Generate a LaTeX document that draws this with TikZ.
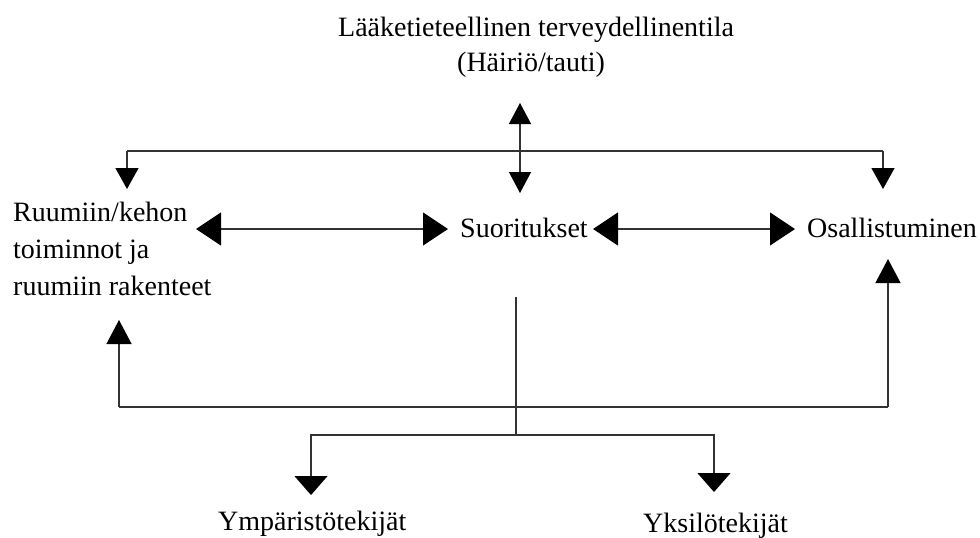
\documentclass[tikz,border=0pt]{standalone}
\usepackage{fontspec}
\setmainfont{Liberation Serif}
\usetikzlibrary{arrows.meta}
\begin{document}
\begin{tikzpicture}[x=1pt,y=-1pt,
  lbl/.style={anchor=base west,inner sep=0pt,font=\fontsize{28}{37}\selectfont},
  conn/.style={line width=1.3pt,draw=black!80},
  tipA/.style={-{Triangle[length=21pt,width=23pt,color=black]}},
  tipH/.style={{Triangle[length=25pt,width=33pt,color=black]}-{Triangle[length=25pt,width=33pt,color=black]}},
  tipV/.style={{Triangle[length=21pt,width=22pt,color=black]}-{Triangle[length=21pt,width=22pt,color=black]}},
  tipB/.style={-{Triangle[length=19pt,width=33pt,color=black]}},
  tipU/.style={-{Triangle[length=24pt,width=25pt,color=black]}}
]
\useasboundingbox (0,0) rectangle (980,538);
% texts
\node[lbl] (title1) at (338,36) {Lääketieteellinen terveydellinentila};
\node[lbl] (title2) at (457,71) {(Häiriö/tauti)};
\node[lbl] (ru1) at (13,221) {Ruumiin/kehon};
\node[lbl] (ru2) at (13,258) {toiminnot ja};
\node[lbl] (ru3) at (13,295) {ruumiin rakenteet};
\node[lbl] (suo) at (460,237) {Suoritukset};
\node[lbl] (osa) at (807,237) {Osallistuminen};
\node[lbl] (ymp) at (218,530) {Ympäristötekijät};
\node[lbl] (yks) at (643,532) {Yksilötekijät};
% connector points
\coordinate (vTop) at (520,103);
\coordinate (vBot) at (520,193);
\coordinate (hL) at (127,151);
\coordinate (hR) at (883,151);
\coordinate (dL) at (127,189);
\coordinate (dR) at (883,189);
\coordinate (a1) at (196,229);
\coordinate (a2) at (448,229);
\coordinate (b1) at (593,229);
\coordinate (b2) at (795,229);
\coordinate (s1) at (516,297);
\coordinate (s2) at (516,435);
\coordinate (eL) at (311,435);
\coordinate (eR) at (714,435);
\coordinate (eLt) at (311,495);
\coordinate (eRt) at (714,492);
\coordinate (fL) at (119,407);
\coordinate (fR) at (888,407);
\coordinate (fLt) at (119,320);
\coordinate (fRt) at (888,259);
% connectors
\draw[conn,tipV] (vTop) -- (vBot);
\draw[conn,tipA] (hL) -- (dL);
\draw[conn] (hL) -- (hR);
\draw[conn,tipA] (hR) -- (dR);
\draw[conn,tipH] (a1) -- (a2);
\draw[conn,tipH] (b1) -- (b2);
\draw[conn] (s1) -- (s2);
\draw[conn,tipB] (s2) -- (eL) -- (eLt);
\draw[conn,tipB] (s2) -- (eR) -- (eRt);
\draw[conn,tipU] (fL) -- (fLt);
\draw[conn,tipU] (fR) -- (fRt);
\draw[conn] (fL) -- (fR);
\end{tikzpicture}
\end{document}
